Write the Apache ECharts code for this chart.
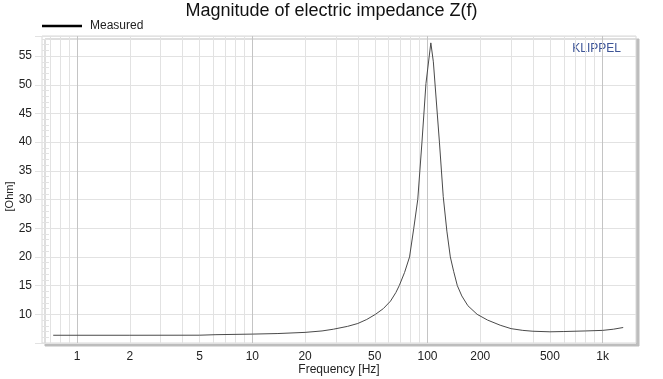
<!DOCTYPE html>
<html>
<head>
<meta charset="utf-8">
<script src="https://cdn.jsdelivr.net/npm/echarts@6/dist/echarts.min.js"></script>
<style>html,body{margin:0;padding:0;background:#fff}#c{width:663px;height:379px}</style>
</head>
<body>
<div id="c"></div>
<script>
// Frequency points [Hz] and measured impedance magnitude [Ohm]
const freqHz = [0.73, 2, 5, 6.2, 10, 14, 20, 25, 29, 35, 40, 45, 50.5, 56, 61.5, 66, 69, 74, 79, 83.5, 88, 93, 98, 104.5,
                108, 117, 123, 129, 135, 141, 148, 157, 170, 192, 220, 260, 300, 350, 400, 500, 600, 800, 1000, 1150, 1310];
const impedanceOhm = [6.35, 6.35, 6.36, 6.45, 6.55, 6.65, 6.85, 7.1, 7.4, 7.9, 8.4, 9.1, 10, 11, 12.3, 13.8, 15, 17.3, 20, 25, 30, 40, 50.2, 57.3,
                      54, 40, 30.5, 24.5, 20, 17.5, 15, 13.2, 11.5, 10, 9, 8.1, 7.5, 7.2, 7.05, 6.95, 7.0, 7.1, 7.2, 7.4, 7.7];
const xLabelValues = [1, 2, 5, 10, 20, 50, 100, 200, 500, 1000];
const xGridValues = [0.7, 0.8, 0.9, 1, 2, 3, 4, 5, 6, 7, 8, 9, 10, 20, 30, 40, 50, 60, 70, 80, 90,
                     100, 200, 300, 400, 500, 600, 700, 800, 900, 1000];
const yMin = 5, yMax = 58.5, yStep = 5;

const chart = echarts.init(document.getElementById('c'), null, {renderer: 'canvas'});
const font = 'Liberation Sans, Arial, sans-serif';
const light = '#e2e2e2';
const gridColors = xGridValues.map(v => (Math.abs(Math.log10(v) - Math.round(Math.log10(v))) < 1e-9) ? '#c4c4c4' : light);

chart.setOption({
  animation: false,
  backgroundColor: '#fff',
  textStyle: {fontFamily: font},
  title: {
    text: 'Magnitude of electric impedance Z(f)',
    left: 'center', top: -3,
    textStyle: {fontSize: 18, fontWeight: 'normal', color: '#111', fontFamily: font}
  },
  legend: {
    left: 37, top: 15,
    icon: 'rect', itemWidth: 40, itemHeight: 2.5, itemGap: 10,
    itemStyle: {color: '#000'},
    textStyle: {fontSize: 12, color: '#222', fontFamily: font, padding: [0, 0, 0, 3]},
    data: ['Measured']
  },
  grid: {
    left: 42, right: 27, top: 36, bottom: 36,
    outerBoundsMode: 'none', containLabel: false,
    show: true, backgroundColor: '#fff', borderColor: '#d8d8d8', borderWidth: 1,
    shadowColor: '#bdbdbd', shadowBlur: 0, shadowOffsetX: 3, shadowOffsetY: 3
  },
  xAxis: {
    type: 'log', logBase: 10, min: 0.63, max: 1550,
    name: 'Frequency [Hz]', nameLocation: 'middle', nameGap: 21, nameMoveOverlap: false,
    nameTextStyle: {fontSize: 12, color: '#222', fontFamily: font},
    axisLine: {show: false},
    axisTick: {show: false, customValues: xGridValues},
    axisLabel: {
      customValues: xLabelValues, margin: 8, fontSize: 12, color: '#222', fontFamily: font,
      formatter: v => v >= 1000 ? (v / 1000) + 'k' : String(v)
    },
    splitLine: {show: true, lineStyle: {color: gridColors, width: 1}},
    minorTick: {show: false}, minorSplitLine: {show: false}
  },
  yAxis: {
    type: 'value', min: yMin, max: yMax, interval: yStep,
    name: '[Ohm]', nameLocation: 'middle', nameGap: 27, nameRotate: 90, nameMoveOverlap: false,
    nameTextStyle: {fontSize: 11, color: '#222', fontFamily: font, padding: [0, 14, 0, 0]},
    axisLine: {show: false},
    axisTick: {show: true, inside: false, length: 7, lineStyle: {color: light}},
    minorTick: {show: true, splitNumber: 5, length: -7, lineStyle: {color: light}},
    axisLabel: {showMinLabel: false, showMaxLabel: false, margin: 10, fontSize: 12, color: '#222', fontFamily: font},
    splitLine: {show: true, lineStyle: {color: light, width: 1}}
  },
  graphic: [{
    type: 'text', right: 42, top: 43,
    style: {text: 'KLIPPEL', fontSize: 12, fill: '#3d5496', fontFamily: font}
  }],
  series: [{
    name: 'Measured', type: 'line', showSymbol: false, symbol: 'none',
    lineStyle: {color: '#4a4a4a', width: 1}, itemStyle: {color: '#000'},
    data: freqHz.map((f, i) => [f, impedanceOhm[i]])
  }]
});
</script>
</body>
</html>
